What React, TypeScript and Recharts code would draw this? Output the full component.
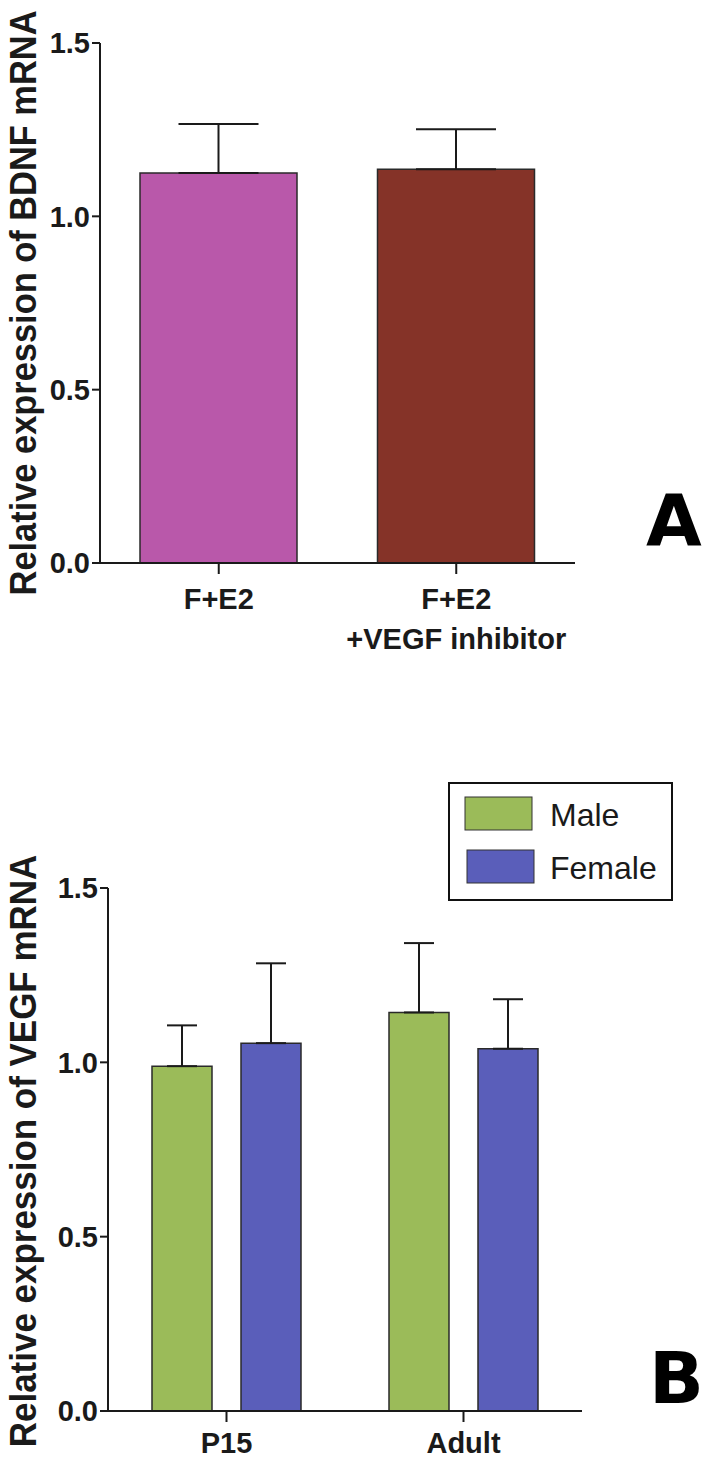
import React from 'react';
import { BarChart, Bar, XAxis, YAxis, ErrorBar, Legend, Cell } from 'recharts';

// ---- Panel A data ----
const groupsA = ['F+E2', 'F+E2\n+VEGF inhibitor'];
const valuesA = [1.125, 1.136];
const errorsA = [0.141, 0.115];
const colorsA = ['#B958AA', '#853328'];

// ---- Panel B data ----
const groupsB = ['P15', 'Adult'];
const maleB = [0.989, 1.143];
const maleErrB = [0.117, 0.199];
const femaleB = [1.055, 1.039];
const femaleErrB = [0.229, 0.142];
const seriesNamesB = ['Male', 'Female'];
const seriesColorsB = ['#9BBB59', '#5A5EBA'];

const yTicks = [0, 0.5, 1.0, 1.5];
const titleA = 'Relative expression of BDNF mRNA';
const titleB = 'Relative expression of VEGF mRNA';

const FONT = '"Liberation Sans", Arial, Helvetica, sans-serif';
const INK = '#1a1a1a';

const dataA = groupsA.map((g, i) => ({ name: g, value: valuesA[i], err: [0, errorsA[i]] }));
const dataB = groupsB.map((g, i) => ({
  name: g,
  male: maleB[i],
  maleErr: [0, maleErrB[i]],
  female: femaleB[i],
  femaleErr: [0, femaleErrB[i]],
}));

const makeTick = (firstDy: number) => (props: any) => {
  const { x, y, payload } = props;
  const lines = String(payload.value).split('\n');
  return (
    <text x={x} y={y} textAnchor="middle" fontFamily={FONT} fontSize={29} fontWeight="bold" fill={INK}>
      {lines.map((l, i) => (
        <tspan key={i} x={x} dy={i === 0 ? firstDy : 40}>{l}</tspan>
      ))}
    </text>
  );
};

const yTickStyle = { fontFamily: FONT, fontSize: 29, fontWeight: 'bold', fill: INK } as any;

const LegendBox = (props: any) => {
  const payload = [...(props.payload || [])].sort(
    (a: any, b: any) => seriesNamesB.indexOf(a.value) - seriesNamesB.indexOf(b.value)
  );
  return (
    <svg width={225} height={119} style={{ display: 'block' }}>
      <rect x={1} y={1} width={223} height={117} fill="#fff" stroke="#111" strokeWidth={2} />
      {payload.map((p: any, i: number) => (
        <g key={i}>
          <rect x={17 + i * 2} y={15 + i * 53} width={67} height={33} fill={p.color} stroke="#333" strokeWidth={1} />
          <text x={102} y={44 + i * 53} fontFamily={FONT} fontSize={32} fill={INK}>{p.value}</text>
        </g>
      ))}
    </svg>
  );
};

export default function App() {
  return (
    <div style={{ position: 'absolute', left: 0, top: 0, width: 710, height: 1458, background: '#fff' }}>
      <div style={{ position: 'absolute', left: 0, top: 0 }}>
        <BarChart
          width={710}
          height={700}
          data={dataA}
          margin={{ top: 43, right: 135, left: 40, bottom: 57 }}
          barSize={157}
        >
          <YAxis
            width={60}
            domain={[0, 1.5]}
            ticks={yTicks}
            tickFormatter={(v: number) => v.toFixed(1)}
            axisLine={{ stroke: INK, strokeWidth: 2 }}
            tickLine={{ stroke: INK, strokeWidth: 2 }}
            tickSize={8}
            tickMargin={2}
            tick={yTickStyle}
            interval={0}
          />
          <XAxis
            dataKey="name"
            height={80}
            axisLine={{ stroke: INK, strokeWidth: 2 }}
            tickLine={{ stroke: INK, strokeWidth: 2 }}
            tickSize={11}
            tick={makeTick(33)}
            interval={0}
          />
          <Bar dataKey="value" stroke="#2a2a2a" strokeWidth={1.5} isAnimationActive={false}>
            {dataA.map((d, i) => (
              <Cell key={i} fill={colorsA[i]} />
            ))}
            <ErrorBar dataKey="err" direction="y" width={40} stroke={INK} strokeWidth={2} />
          </Bar>
        </BarChart>
      </div>

      <div style={{ position: 'absolute', left: 0, top: 740 }}>
        <BarChart
          width={710}
          height={718}
          data={dataB}
          margin={{ top: 148, right: 128, left: 48, bottom: 0 }}
          barSize={60}
          barGap={29}
        >
          <YAxis
            width={60}
            domain={[0, 1.5]}
            ticks={yTicks}
            tickFormatter={(v: number) => v.toFixed(1)}
            axisLine={{ stroke: INK, strokeWidth: 2 }}
            tickLine={{ stroke: INK, strokeWidth: 2 }}
            tickSize={8}
            tickMargin={2}
            tick={yTickStyle}
            interval={0}
          />
          <XAxis
            dataKey="name"
            height={47}
            axisLine={{ stroke: INK, strokeWidth: 2 }}
            tickLine={{ stroke: INK, strokeWidth: 2 }}
            tickSize={11}
            tick={makeTick(29)}
            interval={0}
          />
          <Legend
            layout="vertical"
            align="center"
            verticalAlign="middle"
            content={<LegendBox />}
            wrapperStyle={{ left: 448, top: 42, width: 225, height: 119 }}
          />
          <Bar dataKey="male" name={seriesNamesB[0]} fill={seriesColorsB[0]} stroke="#2a2a2a" strokeWidth={1.5} isAnimationActive={false}>
            <ErrorBar dataKey="maleErr" direction="y" width={15} stroke={INK} strokeWidth={2} />
          </Bar>
          <Bar dataKey="female" name={seriesNamesB[1]} fill={seriesColorsB[1]} stroke="#2a2a2a" strokeWidth={1.5} isAnimationActive={false}>
            <ErrorBar dataKey="femaleErr" direction="y" width={15} stroke={INK} strokeWidth={2} />
          </Bar>
        </BarChart>
      </div>

      <svg width={710} height={1458} style={{ position: 'absolute', left: 0, top: 0, pointerEvents: 'none' }}>
        <text transform="translate(36,303) rotate(-90) scale(0.93,1)" textAnchor="middle" fontFamily={FONT} fontSize={37} fontWeight="bold" fill={INK}>{titleA}</text>
        <text transform="translate(36,1151) rotate(-90) scale(0.945,1)" textAnchor="middle" fontFamily={FONT} fontSize={37} fontWeight="bold" fill={INK}>{titleB}</text>
        <text x={646} y={545} fontFamily='"DejaVu Sans", sans-serif' fontSize={72} fontWeight={900} fill="#000">A</text>
        <text x={649} y={1403} fontFamily='"DejaVu Sans", sans-serif' fontSize={72} fontWeight={900} fill="#000">B</text>
      </svg>
    </div>
  );
}
